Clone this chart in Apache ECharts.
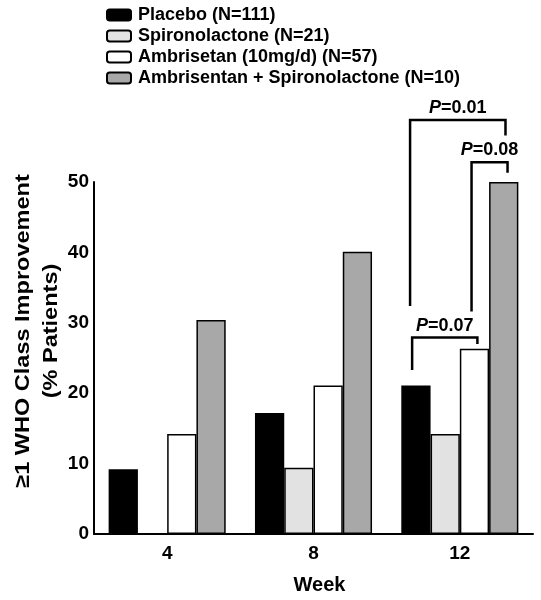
<!DOCTYPE html>
<html><head><meta charset="utf-8">
<script src="https://cdn.jsdelivr.net/npm/echarts@6/dist/echarts.min.js"></script>
<style>html,body{margin:0;padding:0;background:#fff}#c{width:541px;height:600px}</style>
</head><body><div id="c"></div>
<script>
// ---- data ----
const weeks = ['4', '8', '12'];
const seriesNames = ['Placebo (N=111)', 'Spironolactone (N=21)', 'Ambrisetan (10mg/d) (N=57)', 'Ambrisentan + Spironolactone (N=10)'];
const placebo = [9.2, 17.2, 21.1];
const spironolactone = [0, 9.4, 14.2];
const ambrisentan = [14.2, 21.1, 26.3];
const combination = [30.4, 40.1, 50.0];
const yTickValues = [0, 10, 20, 30, 40, 50];
const pValues = ['0.01', '0.08', '0.07'];
const compareWeek = [2, 2, 2];
const compareFrom = [0, 2, 0];      // series index of left end
const compareTo = [3, 3, 2];        // series index of right end
// bracket geometry (value units)
const bracketLeftBottom = [32.4, 31.6, 23.3];
const bracketTop = [58.8, 52.8, 27.9];
const bracketRightBottom = [56.6, 51.3, 27.0];
const bracketLeftShift = [-0.2, -0.1, -0.13];   // in bar widths
const bracketRightShift = [0.06, 0.13, 0.1];

const FONT = "'Liberation Sans', Arial, sans-serif";
const fills = ['#000000', '#e2e2e2', '#ffffff', '#a8a8a8'];
const values = [placebo, spironolactone, ambrisentan, combination];

const chart = echarts.init(document.getElementById('c'), null, {renderer: 'canvas'});
const catGap = 0.2;
chart.setOption({
  animation: false,
  backgroundColor: '#fff',
  legend: {
    orient: 'vertical', left: 106, top: 6, padding: 0, itemWidth: 24, itemHeight: 11, itemGap: 3,
    icon: 'roundRect',
    textStyle: {fontFamily: FONT, fontWeight: 'bold', fontSize: 18, color: '#000', padding: [0, 0, 0, 2]},
    data: seriesNames
  },
  grid: {left: 94, right: 8, top: 182, bottom: 63, containLabel: false},
  xAxis: {
    type: 'category', data: weeks,
    axisLine: {lineStyle: {color: '#000', width: 2}},
    axisTick: {show: false},
    axisLabel: {fontFamily: FONT, fontWeight: 'bold', fontSize: 19, color: '#000', margin: 10},
    name: 'Week', nameLocation: 'middle', nameGap: 41,
    nameTextStyle: {fontFamily: FONT, fontWeight: 'bold', fontSize: 20, color: '#000', padding: [0, 0, 0, 12]}
  },
  yAxis: {
    type: 'value', min: yTickValues[0], max: yTickValues[yTickValues.length - 1], interval: 10,
    axisLine: {show: true, lineStyle: {color: '#000', width: 2}},
    axisTick: {show: false},
    splitLine: {show: false},
    axisLabel: {fontFamily: FONT, fontWeight: 'bold', fontSize: 19, color: '#000', margin: 5}
  },
  series: seriesNames.map((n, i) => ({
    name: n, type: 'bar', data: values[i],
    barGap: '0%', barCategoryGap: (catGap * 100) + '%',
    itemStyle: {color: fills[i], borderColor: '#000', borderWidth: 1.5}
  }))
});

function drawAnnotations() {
  const x0 = chart.convertToPixel({gridIndex: 0}, [0, 0]);
  const x1 = chart.convertToPixel({gridIndex: 0}, [1, 0]);
  const band = x1[0] - x0[0];
  const bw = band * (1 - catGap) / 4;
  const els = [];
  pValues.forEach((p, k) => {
    const c = chart.convertToPixel({gridIndex: 0}, [compareWeek[k], 0])[0];
    const xl = c + (compareFrom[k] - 1.5 + bracketLeftShift[k]) * bw;
    const xr = c + (compareTo[k] - 1.5 + bracketRightShift[k]) * bw;
    const yv = v => chart.convertToPixel({gridIndex: 0}, [0, v])[1];
    const yt = yv(bracketTop[k]);
    els.push({
      type: 'polyline',
      shape: {points: [[xl, yv(bracketLeftBottom[k])], [xl, yt], [xr, yt], [xr, yv(bracketRightBottom[k])]]},
      style: {stroke: '#000', lineWidth: 2.5, fill: null}
    });
    els.push({
      type: 'text', x: (xl + xr) / 2, y: yt - 12,
      style: {
        text: '{i|P}{n|=' + p + '}',
        align: 'center', verticalAlign: 'middle',
        rich: {
          i: {fontFamily: FONT, fontStyle: 'italic', fontWeight: 'bold', fontSize: 18, fill: '#000'},
          n: {fontFamily: FONT, fontWeight: 'bold', fontSize: 18, fill: '#000'}
        }
      }
    });
  });
  els.push({
    type: 'text', x: 37, y: 331, rotation: Math.PI / 2, scaleX: 1.12,
    style: {
      text: '\u22651 WHO Class Improvement\n(% Patients)',
      align: 'center', verticalAlign: 'middle',
      fontFamily: FONT, fontWeight: 'bold', fontSize: 21, lineHeight: 28, fill: '#000'
    }
  });
  chart.setOption({graphic: els});
}
drawAnnotations();
</script>
</body></html>
